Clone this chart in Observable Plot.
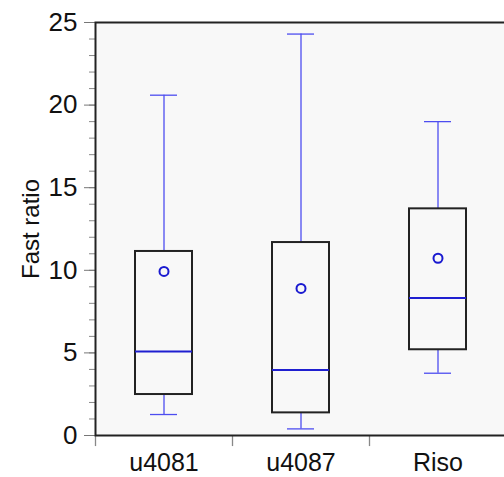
<!DOCTYPE html>
<html>
<head>
<meta charset="utf-8">
<script src="https://cdn.jsdelivr.net/npm/d3@7"></script>
<script src="https://cdn.jsdelivr.net/npm/@observablehq/plot@0.6"></script>
<style>
  html, body { margin: 0; padding: 0; background: white; overflow: hidden; }
  svg { max-width: none !important; }
</style>
</head>
<body>
<div id="chart"></div>
<script>
// Data
const categories = ["u4081", "u4087", "Riso"];
const whiskerLow = [1.27, 0.40, 3.77];
const q1 = [2.48, 1.37, 5.19];
const median = [5.08, 3.97, 8.33];
const q3 = [11.14, 11.68, 13.72];
const whiskerHigh = [20.6, 24.3, 19.0];
const mean = [9.93, 8.9, 10.73];
const yMajorTicks = [0, 5, 10, 15, 20, 25];
const yMinorTicks = [0, 1, 2, 3, 4, 5, 6, 7, 8, 9, 10, 11, 12, 13, 14, 15, 16, 17, 18, 19, 20, 21, 22, 23, 24, 25];
const yTitle = "Fast ratio";

const rows = categories.map((c, i) => ({
  cat: c, lo: whiskerLow[i], q1: q1[i], med: median[i], q3: q3[i], hi: whiskerHigh[i], mean: mean[i]
}));

const whiskerColor = "#4d4df0";
const medianColor = "#1f1fd0";
const meanColor = "#1a1ad0";
const font = "'Liberation Sans', Arial, sans-serif";

const chart = Plot.plot({
  width: 504,
  height: 477,
  marginLeft: 95,
  marginRight: -2,
  marginTop: 22,
  marginBottom: 42,
  x: { domain: categories, padding: 0, axis: null },
  y: { domain: [0, 25], axis: null },
  style: { fontFamily: font, background: "white", maxWidth: "none", overflow: "visible" },
  marks: [
    Plot.frame({ fill: "#f8f8f8" }),
    // whiskers
    Plot.ruleX(rows, { x: "cat", y1: "q3", y2: "hi", stroke: whiskerColor, strokeWidth: 1.3 }),
    Plot.ruleX(rows, { x: "cat", y1: "lo", y2: "q1", stroke: whiskerColor, strokeWidth: 1.3 }),
    Plot.tickY(rows, { x: "cat", y: "hi", stroke: whiskerColor, strokeWidth: 1.3, insetLeft: 55, insetRight: 55 }),
    Plot.tickY(rows, { x: "cat", y: "lo", stroke: whiskerColor, strokeWidth: 1.3, insetLeft: 55, insetRight: 55 }),
    // boxes
    Plot.barY(rows, { x: "cat", y1: "q1", y2: "q3", fill: "none", stroke: "#222", strokeWidth: 2, insetLeft: 40, insetRight: 40 }),
    // medians
    Plot.tickY(rows, { x: "cat", y: "med", stroke: medianColor, strokeWidth: 2, insetLeft: 40, insetRight: 40 }),
    // means
    Plot.dot(rows, { x: "cat", y: "mean", r: 4.5, stroke: meanColor, strokeWidth: 2, fill: "none" }),
    // y axis minor & major ticks
    Plot.axisY({ ticks: yMinorTicks, tickSize: 6, tickFormat: () => "", stroke: "#888", label: null }),
    Plot.axisY({ ticks: yMajorTicks, tickSize: 11, tickPadding: 7, fontSize: 26, stroke: "#777", color: "#111", label: null }),
    // x axis labels
    Plot.axisX({ tickSize: 0, tickPadding: 18, fontSize: 25, color: "#111", label: null }),
    // x boundary ticks
    Plot.ruleX(categories, { x: d => d, dx: -68.5, y1: 0, y2: -0.67, stroke: "#888", strokeWidth: 1.3 }),
    // y title
    Plot.text([yTitle], { frameAnchor: "left", textAnchor: "middle", rotate: -90, dx: -64, fontSize: 24, fill: "#111" }),
    // frame lines
    Plot.frame({ stroke: "#222", strokeWidth: 2 })
  ]
});
document.getElementById("chart").appendChild(chart);
</script>
</body>
</html>
